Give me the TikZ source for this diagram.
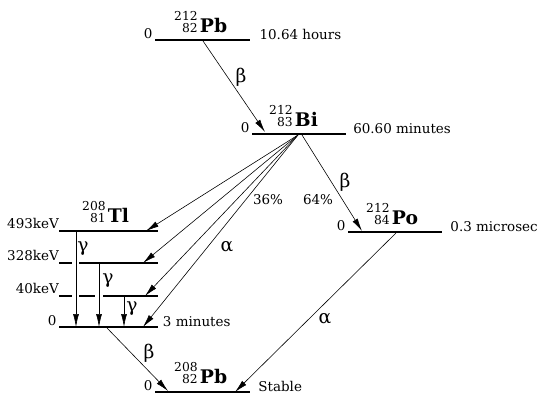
\documentclass[tikz,border=0pt]{standalone}
\usepackage{fontspec}
\setmainfont{DejaVu Serif}
\usepackage{tikz}
\usetikzlibrary{arrows.meta}
\usetikzlibrary{positioning}

\newcommand{\isotope}[3]{{\fontsize{10.5}{9.5}\selectfont\begin{tabular}[b]{@{}r@{}}#1\\#2\end{tabular}}\,{\fontsize{16}{17}\selectfont\bfseries #3}}

\begin{document}
\begin{tikzpicture}[x=0.03cm, y=-0.03cm,
				every node/.style={inner sep=0pt, font=\fontsize{11.5}{13}\selectfont},
				level/.style={draw, line width=1.6pt},
				decay/.style={draw, line width=0.5pt, -{Latex[length=11pt, width=5pt]}},
				greek/.style={font=\fontsize{16}{17}\selectfont}]
				\useasboundingbox (0,0) rectangle (559,405);
				
				\coordinate (pbA-l) at (155,40); \coordinate (pbA-r) at (250,40);
				\coordinate (bi-l) at (252,134); \coordinate (bi-r) at (346,134);
				\coordinate (po-l) at (348,232); \coordinate (po-r) at (442,232);
				\coordinate (tl493-l) at (59,231); \coordinate (tl493-r) at (158,231);
				\coordinate (tl328-l) at (59,263); \coordinate (tl328-r) at (158,263);
				\coordinate (tl40-l) at (59,296); \coordinate (tl40-r) at (158,296);
				\coordinate (tl0-l) at (59,327); \coordinate (tl0-r) at (158,327);
				\coordinate (pbB-l) at (155,392); \coordinate (pbB-r) at (250,392);
				
				\draw[level] (pbA-l) -- (pbA-r);
				\draw[level] (bi-l) -- (bi-r);
				\draw[level] (po-l) -- (po-r);
				\draw[level] (tl493-l) -- (tl493-r);
				\draw[level] (tl328-l) -- ++(13,0) ++(7,0) -- (tl328-r);
				\draw[level] (tl40-l) -- ++(13,0) ++(7,0) -- ++(16,0) ++(8,0) -- (tl40-r);
				\draw[level] (tl0-l) -- (tl0-r);
				\draw[level] (pbB-l) -- (pbB-r);
				
				\node[anchor=base west](pbA-name) at (174,33) {\isotope{212}{82}{Pb}};
				\node[anchor=base west](bi-name) at (269,127) {\isotope{212}{83}{Bi}};
				\node[anchor=base west](po-name) at (366,225) {\isotope{212}{84}{Po}};
				\node[anchor=base west](tl-name) at (82,223) {\isotope{208}{81}{Tl}};
				\node[anchor=base west](pbB-name) at (174,384) {\isotope{208}{82}{Pb}};
				
				\node[anchor=base east, xshift=-2pt, yshift=1pt](pbA-e) at (pbA-l) {0};
				\node[anchor=base east, xshift=-2pt, yshift=1pt](bi-e) at (bi-l) {0};
				\node[anchor=base east, xshift=-2pt, yshift=1pt](po-e) at (po-l) {0};
				\node[anchor=base east, yshift=2pt](tl493-e) at (tl493-l) {493keV};
				\node[anchor=base east, yshift=2pt](tl328-e) at (tl328-l) {328keV};
				\node[anchor=base east, yshift=2pt](tl40-e) at (tl40-l) {40keV};
				\node[anchor=base east, xshift=-2pt, yshift=1pt](tl0-e) at (tl0-l) {0};
				\node[anchor=base east, xshift=-2pt, yshift=1pt](pbB-e) at (pbB-l) {0};
				
				\node[anchor=base west, xshift=8pt](pbA-t) at (pbA-r) {10.64 hours};
				\node[anchor=base west, xshift=6pt](bi-t) at (bi-r) {60.60 minutes};
				\node[anchor=base west, xshift=7pt](po-t) at (po-r) {0.3 microsec};
				\node[anchor=base west, xshift=4pt](tl0-t) at (tl0-r) {3 minutes};
				\node[anchor=base west, xshift=7pt](pbB-t) at (pbB-r) {Stable};
				
				\coordinate (pbA-out) at (203,41);
				\coordinate (bi-in) at (265,132);
				\coordinate (bi-out) at (298,135);
				\coordinate (bi-out2) at (302,135);
				\coordinate (po-in) at (362,231);
				\coordinate (po-out) at (396,233);
				\coordinate (tl493-in) at (146,231);
				\coordinate (tl328-in) at (143,263);
				\coordinate (tl40-in) at (145,296);
				\coordinate (tl0-in) at (143,327);
				\coordinate (tl0-out) at (107,328);
				\coordinate (pbB-in1) at (168,391);
				\coordinate (pbB-in2) at (235,392);
				
				\draw[decay] (pbA-out) -- (bi-in);
				\draw[decay] (bi-out) -- (tl493-in);
				\draw[decay] (bi-out) -- (tl328-in);
				\draw[decay] (bi-out) -- (tl40-in);
				\draw[decay] (bi-out) -- (tl0-in);
				\draw[decay] (bi-out2) -- (po-in);
				\draw[decay] (po-out) -- (pbB-in2);
				\draw[decay] (tl0-out) -- (pbB-in1);
				\draw[decay] (76,232) -- (76,327);
				\draw[decay] (99,264) -- (99,327);
				\draw[decay] (124,297) -- (124,327);
				
				\node[greek](beta1) at (241,77) {β};
				\node[greek](beta2) at (345,182) {β};
				\node[greek](beta3) at (149,353) {β};
				\node[greek](alpha1) at (227,247) {α};
				\node[greek](alpha2) at (325,319) {α};
				\node[greek](gamma1) at (83,249) {γ};
				\node[greek](gamma2) at (108,281) {γ};
				\node[greek](gamma3) at (132,309) {γ};
				\node(pct36) at (268,200) {36\%};
				\node(pct64) at (318,200) {64\%};
			\end{tikzpicture}
\end{document}
